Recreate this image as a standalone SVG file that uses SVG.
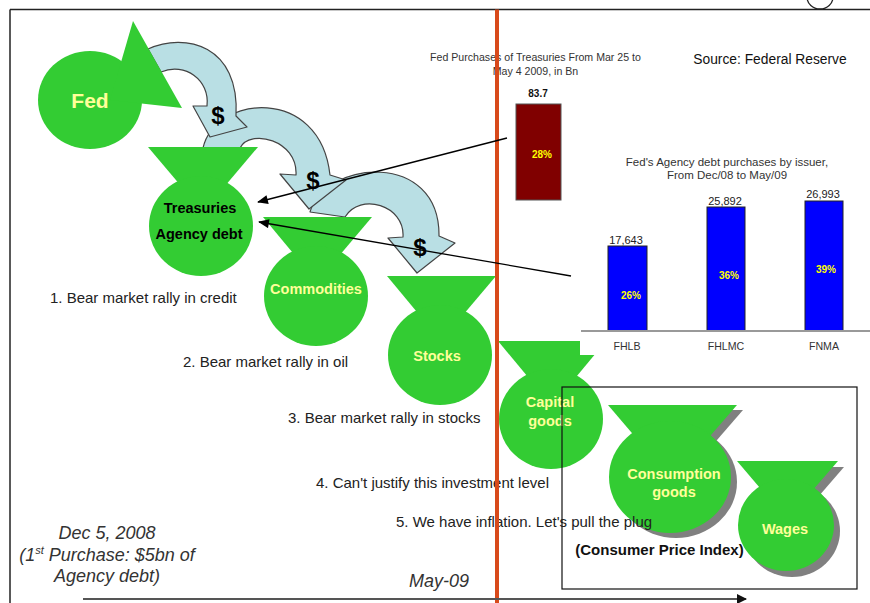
<svg xmlns="http://www.w3.org/2000/svg" width="870" height="603" viewBox="0 0 870 603">
<defs>
<style>
.bag{fill:#33CC33;}
.sh{fill:#808080;}
.arw{fill:#B9DFE4;stroke:#444;stroke-width:1.2;stroke-linejoin:round;}
.dol{font-family:"Liberation Sans",Arial,sans-serif;font-weight:bold;font-size:24px;fill:#000;text-anchor:middle;}
.yl{font-family:"Liberation Sans",Arial,sans-serif;font-weight:bold;font-size:14.5px;fill:#FFFF99;text-anchor:middle;}
.bk{font-family:"Liberation Sans",Arial,sans-serif;font-weight:bold;font-size:14.5px;fill:#000;text-anchor:middle;}
.txt{font-family:"Liberation Sans",Arial,sans-serif;font-size:15px;fill:#222;}
.it{font-family:"Liberation Sans",Arial,sans-serif;font-style:italic;font-size:18px;fill:#333;text-anchor:middle;}
.ct{font-family:"Liberation Sans",Arial,sans-serif;font-size:10.6px;fill:#333;text-anchor:middle;}
.ca{font-family:"Liberation Sans",Arial,sans-serif;font-size:11.5px;fill:#333;text-anchor:middle;}
.cv{font-family:"Liberation Sans",Arial,sans-serif;font-size:11px;fill:#222;text-anchor:middle;}
.pc{font-family:"Liberation Sans",Arial,sans-serif;font-weight:bold;font-size:10px;fill:#FFFF00;text-anchor:middle;}
.conn{stroke:#000;stroke-width:1.3;fill:none;}
</style>
<marker id="ah" viewBox="0 0 12 10" refX="11" refY="5" markerWidth="12" markerHeight="9" markerUnits="userSpaceOnUse" orient="auto">
<path d="M0,0 L12,5 L0,10 Z" fill="#000"/>
</marker>
<marker id="ah2" viewBox="0 0 10 10" refX="9" refY="5" markerWidth="10" markerHeight="10" markerUnits="userSpaceOnUse" orient="auto">
<path d="M0,0 L10,5 L0,10 Z" fill="#111"/>
</marker>
</defs>
<rect x="0" y="0" width="870" height="603" fill="#fff"/>
<!-- frame -->
<line x1="10" y1="9.5" x2="870" y2="9.5" stroke="#222" stroke-width="1.5"/>
<line x1="10" y1="9.5" x2="10" y2="603" stroke="#222" stroke-width="1.5"/>
<ellipse cx="820" cy="-3" rx="13" ry="12" fill="none" stroke="#222" stroke-width="1.3"/>

<!-- curved $ arrows -->
<g id="flow-arrows">
<path class="arw" d="M310,212 C325,160 440,150 439,236 L455,243 L417,273 L388,238 L403,237 C405,205 360,192 345,217 Z"/>
<path class="arw" d="M203,148 C215,95 320,85 330,175 L346,180 L309,209 L280,174 L296,175 C298,140 250,128 240,148 Z"/>
<path class="arw" d="M148,49 C185,32 240,45 236,116 L247,127 L210,137 L193,106 L207,106 C210,80 185,62 161,72 Z"/>
<text class="dol" x="218" y="124">$</text>
<text class="dol" x="313" y="189">$</text>
<text class="dol" x="420" y="256">$</text>
</g>

<g id="fed">
<ellipse class="bag" cx="90" cy="100" rx="52" ry="49"/>
<polygon class="bag" points="133,21 182,108 110,100"/>
<text x="90" y="108" style="font-family:'Liberation Sans',Arial,sans-serif;font-weight:bold;font-size:21px;fill:#FFFF99;text-anchor:middle">Fed</text>
</g>

<g id="treasuries">
<polygon class="bag" points="148,147 258,147 203,212"/>
<ellipse class="bag" cx="201" cy="226" rx="52" ry="50"/>
<text class="bk" x="200" y="213">Treasuries</text>
<text class="bk" x="199" y="239">Agency debt</text>
</g>

<g id="commodities">
<polygon class="bag" points="263,217 372,217 317,282"/>
<ellipse class="bag" cx="316" cy="296" rx="52" ry="50"/>
<text class="yl" x="316" y="294">Commodities</text>
</g>

<g id="stocks">
<polygon class="bag" points="387,276 496,276 441,341"/>
<ellipse class="bag" cx="440" cy="355" rx="52" ry="50"/>
<text class="yl" x="437" y="361">Stocks</text>
</g>

<g id="capital-goods">
<polygon class="bag" points="498,341 606,341 552,406"/>
<ellipse class="bag" cx="551" cy="419" rx="52" ry="50"/>
<text class="yl" x="550" y="407">Capital</text>
<text class="yl" x="550" y="426">goods</text>
</g>

<!-- chart background covering -->
<rect x="580" y="150" width="290" height="205" fill="#fff"/>

<g id="consumption-goods">
<polygon class="sh" points="614,410 743,410 678,485"/>
<ellipse class="sh" cx="676" cy="482" rx="61" ry="56"/>
<polygon class="bag" points="608,405 737,405 672,480"/>
<ellipse class="bag" cx="670" cy="477" rx="61" ry="56"/>
<text class="yl" x="674" y="479">Consumption</text>
<text class="yl" x="674" y="497">goods</text>
</g>

<g id="wages">
<polygon class="sh" points="743,467 844,467 793,526"/>
<ellipse class="sh" cx="792" cy="531" rx="48" ry="46"/>
<polygon class="bag" points="737,461 838,461 787,520"/>
<ellipse class="bag" cx="786" cy="525" rx="48" ry="46"/>
<text class="yl" x="785" y="534">Wages</text>
</g>

<!-- treasury chart -->
<g id="treasury-chart">
<text class="ct" x="535.5" y="61">Fed Purchases of Treasuries From Mar 25 to</text>
<text class="ct" x="535.5" y="75">May 4 2009, in Bn</text>
<text x="538" y="97" style="font-family:'Liberation Sans',Arial,sans-serif;font-weight:bold;font-size:10px;fill:#111;text-anchor:middle">83.7</text>
<rect x="516" y="104" width="45" height="96" fill="#800000" stroke="#555" stroke-width="1"/>
<text class="pc" x="542" y="158">28%</text>
<text x="770" y="64" style="font-family:'Liberation Sans',Arial,sans-serif;font-size:13.8px;fill:#111;text-anchor:middle">Source: Federal Reserve</text>
</g>

<g id="agency-chart">
<text class="ca" x="727" y="166">Fed's Agency debt purchases by issuer,</text>
<text class="ca" x="727" y="179">From Dec/08 to May/09</text>
<rect x="608" y="246" width="39" height="85" fill="#0000FF" stroke="#222" stroke-width="1"/>
<rect x="707" y="207" width="38" height="124" fill="#0000FF" stroke="#222" stroke-width="1"/>
<rect x="805" y="201" width="38" height="130" fill="#0000FF" stroke="#222" stroke-width="1"/>
<line x1="581" y1="331" x2="870" y2="331" stroke="#999" stroke-width="2"/>
<text class="cv" x="626" y="244">17,643</text>
<text class="cv" x="725" y="205">25,892</text>
<text class="cv" x="823" y="198">26,993</text>
<text class="pc" x="631" y="299">26%</text>
<text class="pc" x="729" y="279">36%</text>
<text class="pc" x="826" y="273">39%</text>
<text class="ct" x="627" y="350">FHLB</text>
<text class="ct" x="726" y="350">FHLMC</text>
<text class="ct" x="824" y="350">FNMA</text>
</g>

<!-- labels -->
<text class="txt" x="50" y="303">1. Bear market rally in credit</text>
<text class="txt" x="183" y="367">2. Bear market rally in oil</text>
<text class="txt" x="288" y="423">3. Bear market rally in stocks</text>
<text class="txt" x="316" y="488">4. Can't justify this investment level</text>
<text class="txt" x="396" y="527">5. We have inflation. Let's pull the plug</text>

<text class="it" x="107" y="539">Dec 5, 2008</text>
<text class="it" x="107" y="561">(1<tspan font-size="11" dy="-7">st</tspan><tspan dy="7"> Purchase: $5bn of</tspan></text>
<text class="it" x="107" y="582">Agency debt)</text>
<text class="it" x="439" y="587">May-09</text>

<g id="cpi">
<rect x="562" y="387" width="295" height="202" fill="none" stroke="#111" stroke-width="1.2"/>
<text x="659.5" y="555" style="font-family:'Liberation Sans',Arial,sans-serif;font-weight:bold;font-size:15px;fill:#111;text-anchor:middle">(Consumer Price Index)</text>
</g>

<!-- red divider -->
<line x1="497" y1="9.5" x2="497" y2="603" stroke="#D84A1B" stroke-width="4"/>

<!-- connectors -->
<g id="connectors">
<line class="conn" x1="507" y1="138" x2="258" y2="202" marker-end="url(#ah)"/>
<line class="conn" x1="571" y1="276" x2="259" y2="222" marker-end="url(#ah)"/>
<line x1="83" y1="599" x2="746" y2="599" stroke="#555" stroke-width="2" marker-end="url(#ah2)"/>
</g>
</svg>
